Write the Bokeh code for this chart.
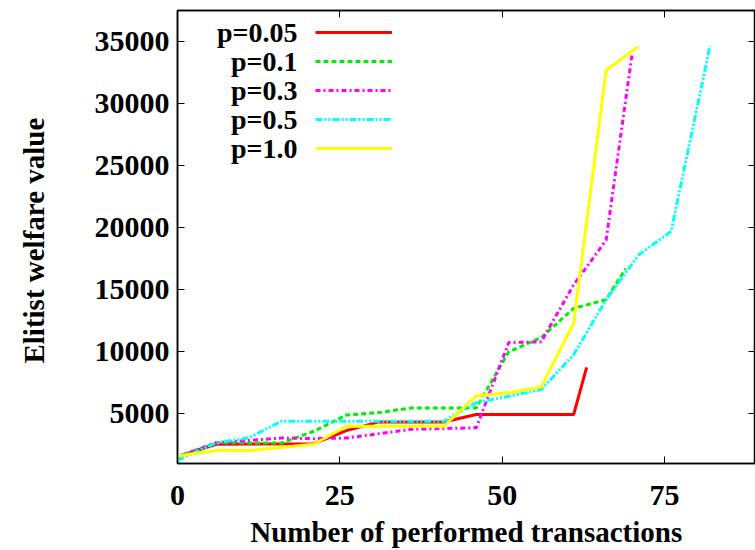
from bokeh.plotting import figure
from bokeh.models import (Range1d, FixedTicker, LinearAxis, Legend, LegendItem, Label)
from bokeh.embed import file_html
from bokeh.resources import INLINE

# ---- data ----
x_p005 = [0, 6, 21, 26, 31, 41, 46, 61, 63]
y_p005 = [1550, 2550, 2600, 3650, 4350, 4350, 4950, 4950, 8750]

x_p01 = [0, 6, 16, 21, 26, 31, 36, 46, 51, 56, 61, 66, 69]
y_p01 = [1550, 2670, 2650, 3600, 4900, 5100, 5480, 5480, 10000, 11150, 13500, 14200, 16700]

x_p03 = [0, 6, 16, 21, 26, 31, 36, 46, 51, 56, 61, 66, 70]
y_p03 = [1550, 2670, 3050, 3000, 3050, 3400, 3750, 3880, 10750, 10800, 15400, 19000, 34000]

x_p05 = [0, 6, 11, 16, 41, 46, 51, 56, 61, 66, 71, 76, 82]
y_p05 = [1250, 2670, 3070, 4410, 4410, 5900, 6420, 6950, 9770, 14200, 17800, 19700, 34650]

x_p10 = [0, 6, 11, 21, 26, 41, 46, 51, 56, 61, 66, 71]
y_p10 = [1600, 2050, 2050, 2550, 4000, 4000, 6450, 6700, 7170, 12300, 32700, 34600]

series_labels = ["p=0.05", "p=0.1", "p=0.3", "p=0.5", "p=1.0"]
x_ticks = [0, 25, 50, 75]
y_ticks = [5000, 10000, 15000, 20000, 25000, 30000, 35000]

FONT = "Liberation Serif"
TICK_FS = "30px"
AXIS_FS = "29px"
LEG_FS = "28px"

p = figure(width=755, height=550, output_backend="svg", toolbar_location=None,
           x_range=Range1d(0, 89), y_range=Range1d(1000, 37500),
           min_border_left=177, min_border_right=0, min_border_top=10, min_border_bottom=87,
           x_axis_label="Number of performed transactions",
           y_axis_label="Elitist  welfare value")
p.xgrid.visible = False
p.ygrid.visible = False
p.outline_line_color = "black"
p.outline_line_width = 1.5
p.background_fill_color = "white"
p.border_fill_color = "white"

p.xaxis.ticker = FixedTicker(ticks=x_ticks)
p.yaxis.ticker = FixedTicker(ticks=y_ticks)
for ax in [p.xaxis[0], p.yaxis[0]]:
    ax.major_tick_in = 7
    ax.major_tick_out = 0
    ax.minor_tick_line_color = None
    ax.axis_line_width = 1.5
    ax.major_tick_line_width = 1
    ax.major_label_text_font = FONT
    ax.major_label_text_font_style = "bold"
    ax.major_label_text_font_size = TICK_FS
    ax.axis_label_text_font = FONT
    ax.axis_label_text_font_style = "bold"
    ax.axis_label_text_font_size = AXIS_FS
    ax.axis_label_text_color = "black"
    ax.major_label_text_color = "black"
p.xaxis[0].major_label_standoff = 22
p.xaxis[0].axis_label_standoff = 8
p.yaxis[0].major_label_standoff = 8
p.yaxis[0].axis_label_standoff = 42

# mirrored tick axes (ticks only)
top = LinearAxis(ticker=FixedTicker(ticks=x_ticks), major_label_text_font_size="1px",
                 major_label_text_color=None,
                 major_tick_in=7, major_tick_out=0, minor_tick_line_color=None,
                 major_label_standoff=0, axis_line_width=1.5)
right = LinearAxis(ticker=FixedTicker(ticks=y_ticks), major_label_text_font_size="1px",
                   major_label_text_color=None,
                   major_tick_in=7, major_tick_out=0, minor_tick_line_color=None,
                   major_label_standoff=0, axis_line_width=1.5)
p.add_layout(top, "above")
p.add_layout(right, "right")

r1 = p.line(x_p005, y_p005, line_color="#ff0000", line_width=3)
r2 = p.line(x_p01, y_p01, line_color="#00ee00", line_width=3, line_dash="5 3")
r3 = p.line(x_p03, y_p03, line_color="#ff00ff", line_width=3, line_dash="5 3 2 3")
r4 = p.line(x_p05, y_p05, line_color="#00ffff", line_width=3, line_dash="7 2 2 2 2 2")
r5 = p.line(x_p10, y_p10, line_color="#ffff00", line_width=3)
renderers = [r1, r2, r3, r4, r5]

legend_top = 441  # px above frame bottom
row_h = 20
row_gap = 9
legend = Legend(items=[LegendItem(label=" ", renderers=[r]) for r in renderers],
                location=(138, legend_top - (5 * row_h + 4 * row_gap)),
                glyph_width=77, glyph_height=row_h, label_height=row_h, label_width=0,
                label_standoff=0, spacing=row_gap, padding=0, margin=0,
                border_line_alpha=0, background_fill_alpha=0,
                label_text_font_size="1px")
p.add_layout(legend)

for i, name in enumerate(series_labels):
    p.add_layout(Label(x=120, y=legend_top - row_h / 2 - i * (row_h + row_gap),
                       x_units="screen", y_units="screen", text=name,
                       text_align="right", text_baseline="middle",
                       text_font=FONT, text_font_style="bold", text_font_size=LEG_FS,
                       text_color="black"))

open("out.html", "w").write(file_html(p, INLINE))
